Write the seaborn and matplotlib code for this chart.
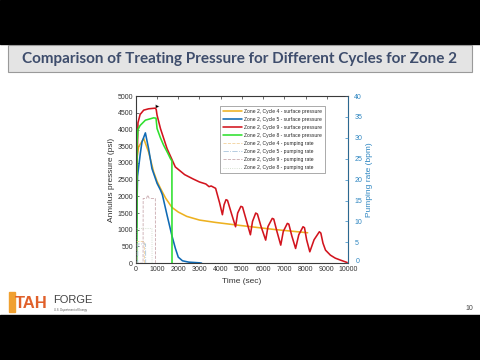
import pandas as pd
import matplotlib.pyplot as plt
from matplotlib.patches import Rectangle
from matplotlib.transforms import ScaledTranslation
import seaborn as sns

# Zone 2 surface pressure (psi)
c4_t = [0, 40, 130, 370, 600, 840, 1000, 1160, 1400, 1700, 2000, 2400, 3000, 3750, 4900, 6500, 8100]
c4_p = [0, 3100, 3480, 3730, 3330, 2730, 2450, 2240, 1950, 1670, 1530, 1400, 1290, 1220, 1130, 1010, 910]

c5_t = [0, 80, 210, 290, 450, 600, 760, 1000, 1160, 1250, 1470, 1710, 1860, 2000, 2200, 2500, 3000, 3100]
c5_p = [0, 2600, 3280, 3630, 3900, 3430, 2830, 2390, 2190, 2050, 1440, 800, 450, 180, 70, 30, 10, 0]

c9_t = [0, 60, 100, 200, 370, 600, 920, 960, 1000, 1160, 1470, 1860, 2300, 2700, 3000, 3300, 3450, 3550, 3760,
        3950, 4080, 4160, 4250, 4320, 4500, 4700, 4800, 4950, 5030, 5200, 5400, 5500, 5650, 5730, 5900,
        6120, 6230, 6430, 6500, 6650, 6830, 6950, 7140, 7210, 7350, 7530, 7680, 7880, 7950, 8050, 8200,
        8400, 8650, 8720, 8820, 8940, 9170, 9400, 9650, 9960]
c9_p = [0, 3000, 4200, 4450, 4580, 4620, 4640, 4600, 4430, 4030, 3430, 2880, 2650, 2520, 2430, 2370, 2290, 2310, 2240,
        1800, 1450, 1750, 1900, 1880, 1500, 1090, 1500, 1700, 1680, 1300, 850, 1250, 1500, 1470, 1100,
        690, 1100, 1340, 1320, 950, 540, 950, 1190, 1170, 820, 440, 850, 1090, 1060, 700, 340,
        700, 940, 900, 600, 390, 240, 150, 90, 20]

c8_t = [0, 50, 55, 100, 200, 450, 840, 950, 1000, 1160, 1310, 1500, 1630, 1700, 1705]
c8_p = [0, 0, 3600, 4000, 4120, 4280, 4350, 4340, 4030, 3750, 3530, 3300, 3130, 3060, 0]

# pumping rate (bpm)
r4_t = [0, 50, 55, 400, 405]
r4 = [0, 0, 5.2, 5.2, 0]
r5_t = [0, 90, 95, 460, 465]
r5 = [0, 0, 4.6, 4.6, 0]
r9_t = [0, 340, 345, 500, 560, 620, 700, 920, 925]
r9 = [0, 0, 15.5, 15.5, 16.3, 15.6, 15.5, 15.5, 0]
r8_t = [0, 40, 45, 760, 765]
r8 = [0, 0, 8.3, 8.3, 0]

end_t = [990]
end_p = [4690]

title = "Comparison of Treating Pressure for Different Cycles for Zone 2"

sns.set_style("white")
plt.rcParams['font.family'] = ['Liberation Sans', 'DejaVu Sans']

fig = plt.figure(figsize=(4.8, 3.6), dpi=100)

# slide frame
fig.patches.append(Rectangle((0, 0.879), 1, 0.121, transform=fig.transFigure, color='black', zorder=0))
fig.patches.append(Rectangle((0, 0), 1, 0.125, transform=fig.transFigure, color='black', zorder=0))
fig.patches.append(Rectangle((0.017, 0.80), 0.966, 0.074, transform=fig.transFigure,
                             facecolor='#E4E4E4', edgecolor='#9A9A9A', linewidth=0.8, zorder=1))
fig.text(0.5, 0.836, title, ha='center', va='center', fontsize=11, fontweight='bold',
         color='#3E4D6C', family=['Lato', 'DejaVu Sans'])

# logo + page number
fig.patches.append(Rectangle((0.018, 0.133), 0.013, 0.055, transform=fig.transFigure,
                             color='#F0A030', zorder=1))
fig.text(0.031, 0.158, "TAH", fontsize=12, fontweight='bold', color='#E0602A', va='center')
fig.text(0.111, 0.166, "FORGE", fontsize=8, color='#444444', va='center')
fig.text(0.113, 0.139, "U.S. Department of Energy", fontsize=2, color='#555555', va='center')
fig.text(0.985, 0.143, "10", fontsize=5, color='#444444', ha='right', va='center')

ax = fig.add_axes([0.283, 0.269, 0.442, 0.464])
ax2 = ax.twinx()

sp = dict(estimator=None, sort=False, legend=False)
sns.lineplot(x=c4_t, y=c4_p, ax=ax, color='#EDB120', linewidth=1.15, **sp)
sns.lineplot(x=c5_t, y=c5_p, ax=ax, color='#0F6AB4', linewidth=1.15, **sp)
sns.lineplot(x=c9_t, y=c9_p, ax=ax, color='#D2141E', linewidth=1.15, **sp)
sns.lineplot(x=c8_t, y=c8_p, ax=ax, color='#2EE02E', linewidth=1.15, **sp)
sns.scatterplot(x=end_t, y=end_p, ax=ax, color='black', marker='>', s=8, legend=False)

sns.lineplot(x=r4_t, y=r4, ax=ax2, color='#F2D19A', linewidth=0.6, linestyle='--', **sp)
sns.lineplot(x=r5_t, y=r5, ax=ax2, color='#A8C4DC', linewidth=0.6, linestyle='-.', **sp)
sns.lineplot(x=r9_t, y=r9, ax=ax2, color='#C9A9AE', linewidth=0.6, linestyle='--', **sp)
sns.lineplot(x=r8_t, y=r8, ax=ax2, color='#C9D6C2', linewidth=0.6, linestyle=':', **sp)

ax.set_xlim(0, 10000)
ax.set_ylim(0, 5000)
ax2.set_ylim(0, 40)
ax.set_xticks(range(0, 10001, 1000))
ax.set_yticks(range(0, 5001, 500))
ax2.set_yticks(range(0, 41, 5))

ax.set_xlabel("Time (sec)", fontsize=6, color='#333333', labelpad=4)
ax.set_ylabel("Annulus pressure (psi)", fontsize=6, color='#333333', labelpad=2)
ax2.set_ylabel("Pumping rate (bpm)", fontsize=6, color='#2E86C1', labelpad=3)

ax.tick_params(axis='both', labelsize=5, direction='in', length=2, width=0.5, colors='#333333', pad=2)
ax.tick_params(axis='x', top=True)
ax2.tick_params(axis='y', labelsize=5, direction='in', length=2, width=0.5, colors='#2E86C1', pad=4.5)
for s in ['top', 'bottom', 'left']:
    ax2.spines[s].set_color('#444444')
    ax2.spines[s].set_linewidth(0.5)
ax2.spines['right'].set_color('#2E86C1')
ax2.spines['right'].set_linewidth(0.5)

# nudge the right-hand "0" a little so it clears "10000"
zero_lbl = ax2.yaxis.get_major_ticks()[0].label2
zero_lbl.set_transform(zero_lbl.get_transform() + ScaledTranslation(1 / 100, 3 / 100, fig.dpi_scale_trans))

labels = ["Zone 2, Cycle 4 - surface pressure", "Zone 2, Cycle 5 - surface pressure",
          "Zone 2, Cycle 9 - surface pressure", "Zone 2, Cycle 8 - surface pressure",
          "Zone 2, Cycle 4 - pumping rate", "Zone 2, Cycle 5 - pumping rate",
          "Zone 2, Cycle 9 - pumping rate", "Zone 2, Cycle 8 - pumping rate"]
handles = ax.get_lines()[:4] + ax2.get_lines()[:4]
leg = ax2.legend(handles, labels, loc='upper left', bbox_to_anchor=(0.387, 0.955), fontsize=3.6,
                 handlelength=3.8, labelspacing=0.62, borderpad=0.5, handletextpad=0.5, fancybox=False,
                 edgecolor='#888888', framealpha=1)
leg.get_frame().set_linewidth(0.5)

plt.savefig("out.png", dpi=100)
